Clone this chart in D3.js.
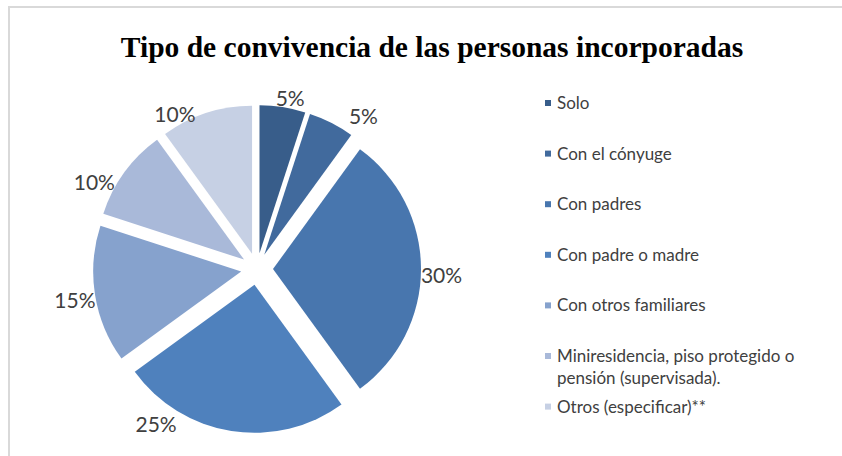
<!DOCTYPE html>
<html>
<head>
<meta charset="utf-8">
<script src="https://cdn.jsdelivr.net/npm/d3@7"></script>
<style>
  body { margin: 0; background: #fff; }
</style>
</head>
<body>
<div id="chart"></div>
<script>
var categories = ["Solo", "Con el cónyuge", "Con padres", "Con padre o madre",
    "Con otros familiares", "Miniresidencia, piso protegido o pensión (supervisada).",
    "Otros (especificar)**"];
var values = [5, 5, 30, 25, 15, 10, 10];
var colors = ["#385d8a", "#416a9d", "#4876ae", "#4f81bd", "#86a2cd", "#a9b9d9", "#c6d0e4"];

// label tweaks (degrees off the slice middle, extra gap in px)
var labelTurn = [2, 8, 2, 24, -1, -8, -10];
var labelGap = [0, 10, 0, 10, 0, 0, 0];

var width = 842, height = 456;
var cx = 257, cy = 269, radius = 148, explode = 16;

var svg = d3.select("#chart")
    .append("svg")
        .attr("width", width)
        .attr("height", height)
        .style("font-family", "Lato, 'Open Sans', sans-serif");

// chart frame, cut by the picture edge on right and bottom
svg.append("rect")
    .attr("x", 9).attr("y", 7)
    .attr("width", width).attr("height", height)
    .attr("fill", "none")
    .attr("stroke", "#d9d9d9")
    .attr("stroke-width", 2);

svg.append("text")
    .attr("x", 432)
    .attr("y", 57)
    .attr("text-anchor", "middle")
    .style("font-family", "'Liberation Serif', 'Times New Roman', serif")
    .style("font-weight", "bold")
    .style("font-size", "29.5px")
    .attr("fill", "#000")
    .text("Tipo de convivencia de las personas incorporadas");

var data = categories.map((c, i) => ({name: c, value: values[i], color: colors[i], i: i}));

var pie = d3.pie()
    .sort(null)
    .value(d => d.value);

var arc = d3.arc()
    .innerRadius(0)
    .outerRadius(radius);

var arcs = pie(data);
var total = d3.sum(values);

var g = svg.append("g")
    .attr("transform", "translate(" + cx + "," + cy + ")");

g.selectAll("path")
    .data(arcs)
    .enter()
    .append("path")
    .attr("d", arc)
    .attr("fill", d => d.data.color)
    .attr("transform", function(d) {
        var a = (d.startAngle + d.endAngle) / 2;
        return "translate(" + (Math.sin(a) * explode) + "," + (-Math.cos(a) * explode) + ")";
    });

// percentage labels, box placed just outside the exploded rim
var labels = g.selectAll(".pct")
    .data(arcs)
    .enter()
    .append("text")
    .attr("class", "pct")
    .attr("text-anchor", "middle")
    .attr("dy", "0.35em")
    .style("font-size", "21px")
    .attr("fill", "#404040")
    .text(d => Math.round(d.data.value / total * 100) + "%");

labels.each(function(d) {
    var box = this.getBBox();
    var hw = box.width / 2, hh = box.height / 2 - 3;
    var a = (d.startAngle + d.endAngle) / 2 + labelTurn[d.data.i] * Math.PI / 180;
    var sx = Math.abs(Math.sin(a)), sy = Math.abs(Math.cos(a));
    var off = Math.min(sx > 0.001 ? hw / sx : 1e9, sy > 0.001 ? hh / sy : 1e9);
    var r = radius + explode + labelGap[d.data.i] + off;
    d3.select(this)
        .attr("x", Math.sin(a) * r)
        .attr("y", -Math.cos(a) * r);
});

// legend
var legX = 545, legY = 103, legStep = 50.6, lineH = 22, maxW = 262;

var leg = svg.append("g")
    .style("font-size", "17px");

data.forEach(function(d, i) {
    var y = legY + i * legStep;
    leg.append("rect")
        .attr("x", legX)
        .attr("y", y - 3)
        .attr("width", 6)
        .attr("height", 6)
        .attr("fill", d.color);
    var t = leg.append("text")
        .attr("x", legX + 12)
        .attr("y", y)
        .attr("dy", "0.35em")
        .attr("fill", "#404040");
    var words = d.name.split(" "), line = [], n = 0;
    var ts = t.append("tspan").attr("x", legX + 12).attr("y", y).attr("dy", "0.35em");
    words.forEach(function(w) {
        line.push(w);
        ts.text(line.join(" "));
        if (ts.node().getComputedTextLength() > maxW && line.length > 1) {
            line.pop();
            ts.text(line.join(" "));
            line = [w];
            n++;
            ts = t.append("tspan").attr("x", legX + 12).attr("y", y + n * lineH)
                .attr("dy", "0.35em").text(w);
        }
    });
});
</script>
</body>
</html>
